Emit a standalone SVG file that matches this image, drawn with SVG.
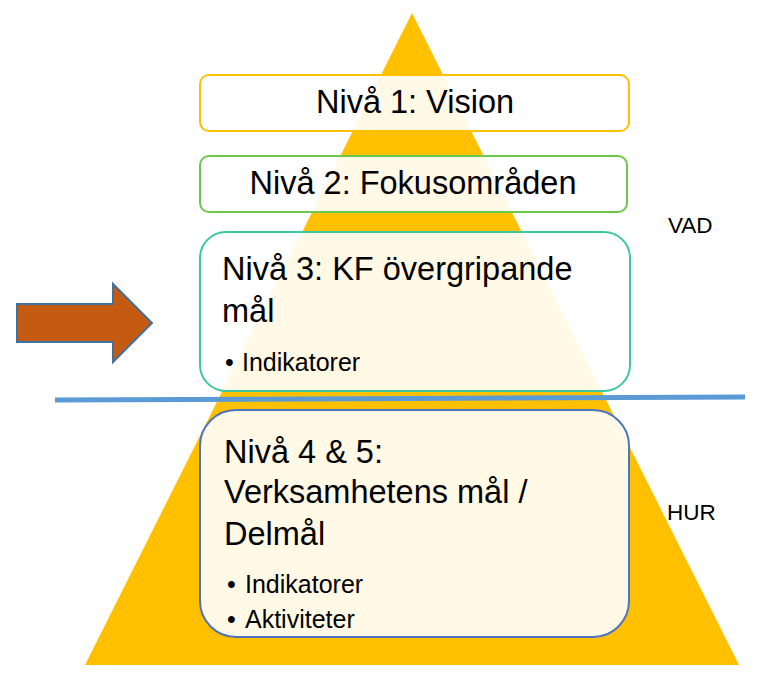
<svg xmlns="http://www.w3.org/2000/svg" width="757" height="681" viewBox="0 0 757 681">
<style>
text{font-family:"Liberation Sans",Arial,sans-serif;fill:#000}
.h{font-size:32.5px}
.b{font-size:25px}
.s{font-size:22.5px}
.box{fill:#fff;fill-opacity:0.9;stroke-width:2}
</style>
<rect width="757" height="681" fill="#fff"/>
<g id="pyramid"><polygon points="412,13 85,665 739,665" fill="#FFC000"/></g>
<g id="arrow"><polygon points="17,304 113,304 113,284 152,323 113,362 113,342 17,342" fill="#C55A11" stroke="#41719C" stroke-width="2" stroke-linejoin="miter"/></g>
<g id="connectors"><line x1="55" y1="400" x2="745" y2="397" stroke="#5B9BD5" stroke-width="5"/></g>
<g id="level1">
<rect class="box" x="200" y="75" width="429" height="56" rx="9" stroke="#FFC000"/>
<text class="h" x="415" y="113" text-anchor="middle">Nivå 1: Vision</text>
</g>
<g id="level2">
<rect class="box" x="200" y="156" width="427" height="56" rx="9" stroke="#6CC84A"/>
<text class="h" x="413" y="194" text-anchor="middle">Nivå 2: Fokusområden</text>
</g>
<g id="level3">
<rect class="box" x="200" y="232" width="430" height="159" rx="26" stroke="#3CC89E"/>
<text class="h" x="222" y="280">Nivå 3: KF övergripande</text>
<text class="h" x="222" y="322">mål</text>
<text class="b" x="225" y="371">•</text>
<text class="b" x="242" y="371">Indikatorer</text>
</g>
<g id="level45">
<rect class="box" x="200" y="410" width="429" height="227" rx="36" stroke="#4F74BE"/>
<text class="h" x="224" y="463">Nivå 4 &amp; 5:</text>
<text class="h" x="224" y="503">Verksamhetens mål /</text>
<text class="h" x="224" y="545">Delmål</text>
<text class="b" x="227" y="593">•</text>
<text class="b" x="245" y="593">Indikatorer</text>
<text class="b" x="227" y="628">•</text>
<text class="b" x="245" y="628">Aktiviteter</text>
</g>
<g id="vad"><text class="s" x="668" y="233">VAD</text></g>
<g id="hur"><text class="s" x="667" y="520">HUR</text></g>
</svg>
